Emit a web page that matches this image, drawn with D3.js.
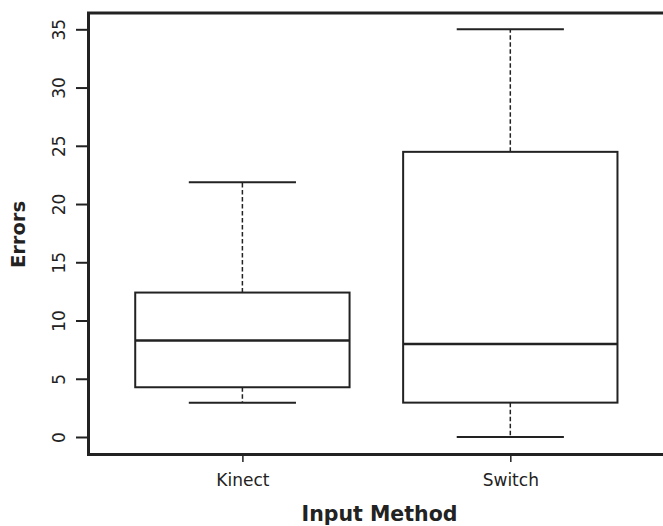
<!DOCTYPE html>
<html>
<head>
<meta charset="utf-8">
<script src="https://cdn.jsdelivr.net/npm/d3@7"></script>
<style>
  body { margin: 0; background: #fff; }
  text { font-family: "DejaVu Sans", sans-serif; fill: #222; }
</style>
</head>
<body>
<div id="chart"></div>
<script>
// box stats
var groups = ["Kinect", "Switch"];
var mins = [2.95, 0];
var q1s = [4.27, 2.95];
var medians = [8.28, 7.98];
var q3s = [12.4, 24.48];
var maxs = [21.86, 35];
var yTicks = [0, 5, 10, 15, 20, 25, 30, 35];

var width = 663, height = 526;
var ink = "#222";

var svg = d3.select("#chart").append("svg")
    .attr("width", width)
    .attr("height", height);

// R style: 4% padding around data range
var x = d3.scalePoint()
    .domain(groups)
    .range([87, 665.7])
    .padding(0.58);

var y = d3.scaleLinear()
    .domain([-1.4, 36.4])
    .range([453.3, 13]);

var step = x.step();
var boxW = step * 0.8, capW = step * 0.4;

var data = groups.map(function (g, i) {
    return {name: g, min: mins[i], q1: q1s[i], med: medians[i], q3: q3s[i], max: maxs[i]};
});

var boxes = svg.selectAll("g.box").data(data).enter()
    .append("g").attr("class", "box");

// whiskers
boxes.append("line")
    .attr("x1", function (d) { return x(d.name); })
    .attr("x2", function (d) { return x(d.name); })
    .attr("y1", function (d) { return y(d.q3); })
    .attr("y2", function (d) { return y(d.max); })
    .attr("stroke", ink).attr("stroke-width", 1.5).attr("stroke-dasharray", "4.5,2.5");
boxes.append("line")
    .attr("x1", function (d) { return x(d.name); })
    .attr("x2", function (d) { return x(d.name); })
    .attr("y1", function (d) { return y(d.q1); })
    .attr("y2", function (d) { return y(d.min); })
    .attr("stroke", ink).attr("stroke-width", 1.5).attr("stroke-dasharray", "4.5,2.5");

// caps
["min", "max"].forEach(function (k) {
    boxes.append("line")
        .attr("x1", function (d) { return x(d.name) - capW / 2; })
        .attr("x2", function (d) { return x(d.name) + capW / 2; })
        .attr("y1", function (d) { return y(d[k]); })
        .attr("y2", function (d) { return y(d[k]); })
        .attr("stroke", ink).attr("stroke-width", 2);
});

boxes.append("rect")
    .attr("x", function (d) { return x(d.name) - boxW / 2; })
    .attr("width", boxW)
    .attr("y", function (d) { return y(d.q3); })
    .attr("height", function (d) { return y(d.q1) - y(d.q3); })
    .attr("fill", "#fff")
    .attr("stroke", ink).attr("stroke-width", 2);

boxes.append("line")
    .attr("x1", function (d) { return x(d.name) - boxW / 2; })
    .attr("x2", function (d) { return x(d.name) + boxW / 2; })
    .attr("y1", function (d) { return y(d.med); })
    .attr("y2", function (d) { return y(d.med); })
    .attr("stroke", ink).attr("stroke-width", 2.5);

// y axis
var yAxis = svg.append("g")
    .attr("transform", "translate(88,0)")
    .call(d3.axisLeft(y).tickValues(yTicks).tickSize(12).tickPadding(0).tickFormat(d3.format("d")));
yAxis.select(".domain").remove();
yAxis.selectAll(".tick line").attr("stroke", ink).attr("stroke-width", 2);
yAxis.selectAll(".tick text")
    .attr("x", 0).attr("dy", 0)
    .attr("transform", "translate(-23,0) rotate(-90)")
    .attr("text-anchor", "middle")
    .style("font-size", "17px")
    .style("font-family", "DejaVu Sans, sans-serif")
    .attr("fill", ink);

// x axis
var xAxis = svg.append("g")
    .attr("transform", "translate(0,455)")
    .call(d3.axisBottom(x).tickSize(7).tickPadding(10));
xAxis.select(".domain").remove();
xAxis.selectAll(".tick line").attr("stroke", ink).attr("stroke-width", 1.5);
xAxis.selectAll(".tick text")
    .attr("dy", 0).attr("y", 30.5)
    .style("font-size", "17px")
    .style("font-family", "DejaVu Sans, sans-serif")
    .attr("fill", ink);

// frame (right edge falls off the canvas)
var frame = d3.path();
frame.moveTo(width + 2, y.range()[1]);
frame.lineTo(88.5, y.range()[1]);
frame.lineTo(88.5, 454.5);
frame.lineTo(width + 2, 454.5);
svg.append("path")
    .attr("d", frame.toString())
    .attr("fill", "none")
    .attr("stroke", ink)
    .attr("stroke-width", 3);

// axis titles
svg.append("text")
    .attr("x", 379.5).attr("y", 521)
    .attr("text-anchor", "middle")
    .style("font-size", "20.5px").style("font-weight", "bold")
    .text("Input Method");

svg.append("text")
    .attr("transform", "translate(25,234.5) rotate(-90)")
    .attr("text-anchor", "middle")
    .style("font-size", "19.5px").style("font-weight", "bold")
    .text("Errors");
</script>
</body>
</html>
